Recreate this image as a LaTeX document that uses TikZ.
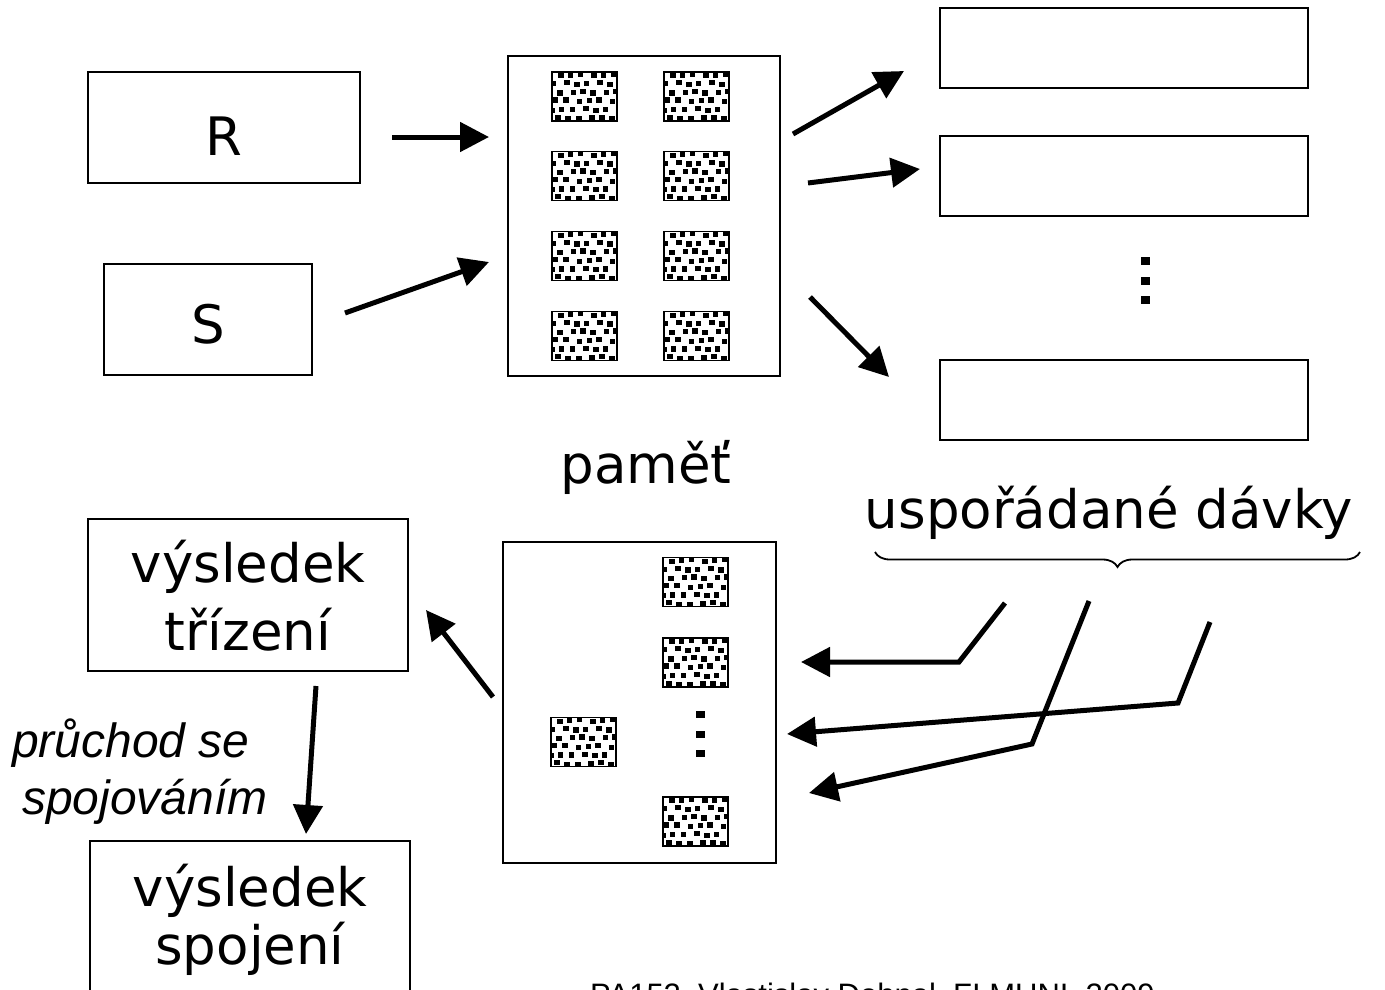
\documentclass[tikz,border=0pt]{standalone}
\usepackage{fontspec}
\setmainfont{DejaVu Sans}
\newfontfamily\arialf{Liberation Sans}
\usetikzlibrary{arrows.meta,decorations.pathreplacing}
\tikzset{
  box/.style={draw, line width=1.6pt, minimum width=#1, inner sep=0pt},
  lbl/.style={anchor=base, inner sep=0pt, font=\fontsize{53}{60}\selectfont},
  arr/.style={line width=5pt, -{Triangle[length=29pt,width=29pt]}},
  blk/.pic={
    \begin{scope}
      \clip (-32.5,-24.5) rectangle (32.5,24.5);
      \fill[white] (-32.5,-24.5) rectangle (32.5,24.5);
      \foreach \j in {0,...,5}{
        \foreach \i in {0,...,6}{
          \pgfmathsetmacro\xx{mod(\i*11+\j*6.3+1.2*(mod(\i*5+\j*3,3)-1),77)-36}
          \pgfmathsetmacro\yy{-21.5+\j*8.6+0.8*(mod(\i*2+\j,3)-1)}
          \fill (\xx-2.8,\yy-2.6) rectangle ++(5.6,5.2);
        }
      }
    \end{scope}
    \draw[line width=1.8pt] (-32.5,-24.5) rectangle (32.5,24.5);
  }
}
\begin{document}
\begin{tikzpicture}[x=1pt,y=-1pt]
\useasboundingbox (0,0) rectangle (1385,989);

% R and S
\node[box=272pt, minimum height=111pt] (R) at (224,127.5) {};
\node[lbl] (Rt) at (224,155) {R};
\node[box=208pt, minimum height=111pt] (S) at (208,319.5) {};
\node[lbl] (St) at (208,343) {S};

% memory
\node[box=272pt, minimum height=320pt] (mem) at (644,216) {};
\foreach \x in {584.5,696.5}{
  \foreach \y in {96.5,176,256,336}{
    \pic at (\x,\y) {blk};
  }
}
\node[lbl] (memt) at (646,483) {paměť};

% sorted runs
\node[box=368pt, minimum height=80pt] (b1) at (1124,48) {};
\node[box=368pt, minimum height=80pt] (b2) at (1124,176) {};
\node[box=368pt, minimum height=80pt] (b3) at (1124,400) {};
\foreach \y in {261,281,300}{
  \fill (1140.5,\y-4) rectangle ++(9,8);
}
\node[lbl] (runs) at (1109,528) {uspořádané dávky};
\draw[line width=1.8pt, decorate, decoration={brace, amplitude=15pt, mirror}] (875,552) -- (1360,552);

% top arrows
\coordinate (a1s) at (392,137); \coordinate (a1e) at (489,137);
\draw[arr] (a1s) -- (a1e);
\coordinate (a2s) at (345,313); \coordinate (a2e) at (489,262);
\draw[arr] (a2s) -- (a2e);
\coordinate (a3s) at (793,134); \coordinate (a3e) at (904,71);
\draw[arr] (a3s) -- (a3e);
\coordinate (a4s) at (808,183); \coordinate (a4e) at (920,169);
\draw[arr] (a4s) -- (a4e);
\coordinate (a5s) at (810,297); \coordinate (a5e) at (889,377);
\draw[arr] (a5s) -- (a5e);

% bottom memory
\node[box=273pt, minimum height=321pt] (mem2) at (639.5,702.5) {};
\pic at (695.5,582) {blk};
\pic at (695.5,662.5) {blk};
\pic at (583.5,742) {blk};
\pic at (695.5,821.5) {blk};
\foreach \y in {714.5,734.5,753.5}{
  \fill (696,\y-3.5) rectangle ++(9,7);
}

% merge arrows
\coordinate (m1s) at (1005,603); \coordinate (m1c) at (959,662); \coordinate (m1e) at (801,662);
\draw[arr, line join=miter] (m1s) -- (m1c) -- (m1e);
\coordinate (m2s) at (1210,622); \coordinate (m2c) at (1178,703); \coordinate (m2e) at (787,734);
\draw[arr, line join=miter] (m2s) -- (m2c) -- (m2e);
\coordinate (m3s) at (1089,601); \coordinate (m3c) at (1032,744); \coordinate (m3e) at (809,793);
\draw[arr, line join=miter] (m3s) -- (m3c) -- (m3e);

% result of sorting
\node[box=320pt, minimum height=152pt] (sortres) at (248,595) {};
\node[lbl] (sortt1) at (248,582) {výsledek};
\node[lbl] (sortt2) at (248,650) {třízení};
\coordinate (b1s) at (493,697); \coordinate (b1e) at (426,610);
\draw[arr] (b1s) -- (b1e);

% pass with merging
\coordinate (d1s) at (316,686); \coordinate (d1e) at (306,834);
\draw[arr] (d1s) -- (d1e);
\node[anchor=base west, inner sep=0pt, font=\arialf\itshape\fontsize{48}{56}\selectfont] (pass1) at (12,757) {průchod se};
\node[anchor=base west, inner sep=0pt, font=\arialf\itshape\fontsize{48}{56}\selectfont] (pass2) at (22,814) {spojováním};

% result of join
\node[box=320pt, minimum height=180pt] (joinres) at (250,931) {};
\node[lbl] (joint1) at (250,906) {výsledek};
\node[lbl] (joint2) at (250,964) {spojení};

% footer (cut by the page edge, as in the reference)
\node[anchor=base west, inner sep=0pt, font=\arialf\fontsize{31}{36}\selectfont] (foot) at (590,1005) {PA152, Vlastislav Dohnal, FI MUNI, 2009};
\end{tikzpicture}
\end{document}
